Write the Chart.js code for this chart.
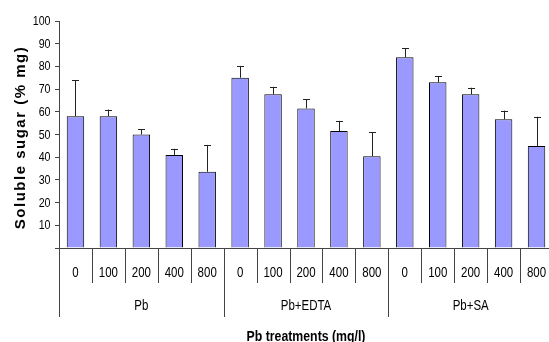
<!DOCTYPE html>
<html>
<head>
<meta charset="utf-8">
<script src="https://cdn.jsdelivr.net/npm/chart.js@4/dist/chart.umd.min.js"></script>
<style>
  html, body { margin: 0; padding: 0; background: #fff; overflow: hidden; }
  #wrap { width: 549px; height: 342px; overflow: hidden; position: relative; }
  canvas { display: block; }
</style>
</head>
<body>
<div id="wrap"><canvas id="c" width="553" height="342" style="width:553px;height:342px"></canvas></div>
<script>
// Treatment groups and Pb doses (mg/l)
const groups = ['Pb', 'Pb+EDTA', 'Pb+SA'];
const doses = ['0', '100', '200', '400', '800'];

// Mean soluble sugar (% mg) per dose, per treatment
const pbMeans   = [58.0, 58.0, 50.0, 41.0, 33.6];
const edtaMeans = [75.0, 67.7, 61.5, 51.5, 40.4];
const saMeans   = [84.0, 73.0, 67.7, 56.7, 44.9];

// Upper error bar size per dose, per treatment
const pbErr   = [16.0, 3.0, 2.3, 2.7, 11.8];
const edtaErr = [5.2, 3.3, 4.1, 4.5, 10.7];
const saErr   = [4.0, 2.8, 2.9, 3.8, 12.9];

// Value axis ticks
const yTicks = [0, 10, 20, 30, 40, 50, 60, 70, 80, 90, 100];

const labels = groups.flatMap(g => doses.map(d => g + ' ' + d));
const means = [...pbMeans, ...edtaMeans, ...saMeans];
const errs = [...pbErr, ...edtaErr, ...saErr];

const FONT = '"Liberation Sans", Arial, sans-serif';
const LINE = '#444';
const SQUEEZE = 0.82; // condensed look for axis text

function condensedText(ctx, text, x, y, font, align, baseline) {
  ctx.save();
  ctx.font = font;
  ctx.textAlign = align;
  ctx.textBaseline = baseline;
  ctx.translate(x, y);
  ctx.scale(SQUEEZE, 1);
  ctx.fillText(text, 0, 0);
  ctx.restore();
}

// Upward error bars with caps
const errorBars = {
  id: 'errorBars',
  afterDatasetsDraw(chart) {
    const ctx = chart.ctx;
    const y = chart.scales.y;
    const meta = chart.getDatasetMeta(0);
    ctx.save();
    ctx.strokeStyle = '#222';
    ctx.lineWidth = 1;
    meta.data.forEach((bar, i) => {
      const x = Math.round(bar.x) + 0.5;
      const top = y.getPixelForValue(means[i] + errs[i]);
      ctx.beginPath();
      ctx.moveTo(x, bar.y);
      ctx.lineTo(x, top);
      ctx.moveTo(x - 3.5, Math.round(top) + 0.5);
      ctx.lineTo(x + 3.5, Math.round(top) + 0.5);
      ctx.stroke();
    });
    ctx.restore();
  }
};

// Two-level category axis, value labels, axis lines and titles
const axisDecor = {
  id: 'axisDecor',
  afterDraw(chart) {
    const ctx = chart.ctx;
    const xs = chart.scales.x;
    const ys = chart.scales.y;
    const area = chart.chartArea;
    const y0 = Math.round(ys.getPixelForValue(0)) + 0.5;
    const half = (xs.getPixelForValue(1) - xs.getPixelForValue(0)) / 2;
    const n = labels.length;
    const per = doses.length;

    ctx.save();
    ctx.strokeStyle = LINE;
    ctx.lineWidth = 1;

    // horizontal axis line
    ctx.beginPath();
    ctx.moveTo(area.left - 4, y0);
    ctx.lineTo(area.right, y0);
    ctx.stroke();

    // separators: short between doses, long between treatments
    for (let i = 0; i <= n; i++) {
      const bx = Math.round(xs.getPixelForValue(i) - half) + 0.5;
      const long = i % per === 0;
      ctx.beginPath();
      ctx.moveTo(bx, y0);
      ctx.lineTo(bx, long ? 317 : 283);
      ctx.stroke();
    }

    ctx.fillStyle = '#000';

    // value labels (0 left blank)
    yTicks.forEach(v => {
      if (v === 0) return;
      condensedText(ctx, String(v), 50.5, ys.getPixelForValue(v) + 0.5, '13px ' + FONT, 'right', 'middle');
    });

    // dose labels
    for (let i = 0; i < n; i++) {
      condensedText(ctx, doses[i % per], xs.getPixelForValue(i), 273, '14px ' + FONT, 'center', 'middle');
    }

    // treatment labels
    groups.forEach((g, gi) => {
      const a = xs.getPixelForValue(gi * per);
      const b = xs.getPixelForValue(gi * per + per - 1);
      condensedText(ctx, g, (a + b) / 2, 306, '14px ' + FONT, 'center', 'middle');
    });

    // x title
    condensedText(ctx, 'Pb treatments (mg/l)', (area.left + area.right) / 2, 341,
      'bold 15px ' + FONT, 'center', 'alphabetic');

    // y title
    ctx.translate(21, (area.top + area.bottom) / 2 + 3);
    ctx.rotate(-Math.PI / 2);
    ctx.font = 'bold 15px ' + FONT;
    ctx.letterSpacing = '1.5px';
    ctx.textAlign = 'center';
    ctx.textBaseline = 'middle';
    ctx.fillText('Soluble sugar (% mg)', 0, 0);
    ctx.restore();
  }
};

new Chart(document.getElementById('c'), {
  type: 'bar',
  data: {
    labels: labels,
    datasets: [{
      data: means,
      backgroundColor: '#9999ff',
      borderColor: '#000',
      borderWidth: 1,
      borderSkipped: 'bottom',
      barPercentage: 0.53,
      categoryPercentage: 1.0
    }]
  },
  options: {
    responsive: false,
    animation: false,
    devicePixelRatio: 1,
    layout: { padding: { top: 21, left: 0, right: 0, bottom: 0 } },
    plugins: { legend: { display: false }, tooltip: { enabled: false } },
    scales: {
      x: {
        type: 'category',
        offset: true,
        grid: { display: false },
        border: { display: false },
        ticks: { display: false },
        afterFit(s) { s.height = 94; }
      },
      y: {
        min: 0,
        max: 100,
        afterBuildTicks(s) { s.ticks = yTicks.map(v => ({ value: v })); },
        grid: { drawOnChartArea: false, drawTicks: true, tickLength: 4, color: LINE },
        border: { display: true, color: LINE },
        ticks: {
          padding: 5,
          color: 'rgba(0,0,0,0)',
          font: { family: FONT, size: 13 }
        },
        afterFit(s) { s.width = 59; }
      }
    }
  },
  plugins: [errorBars, axisDecor]
});
</script>
</body>
</html>
